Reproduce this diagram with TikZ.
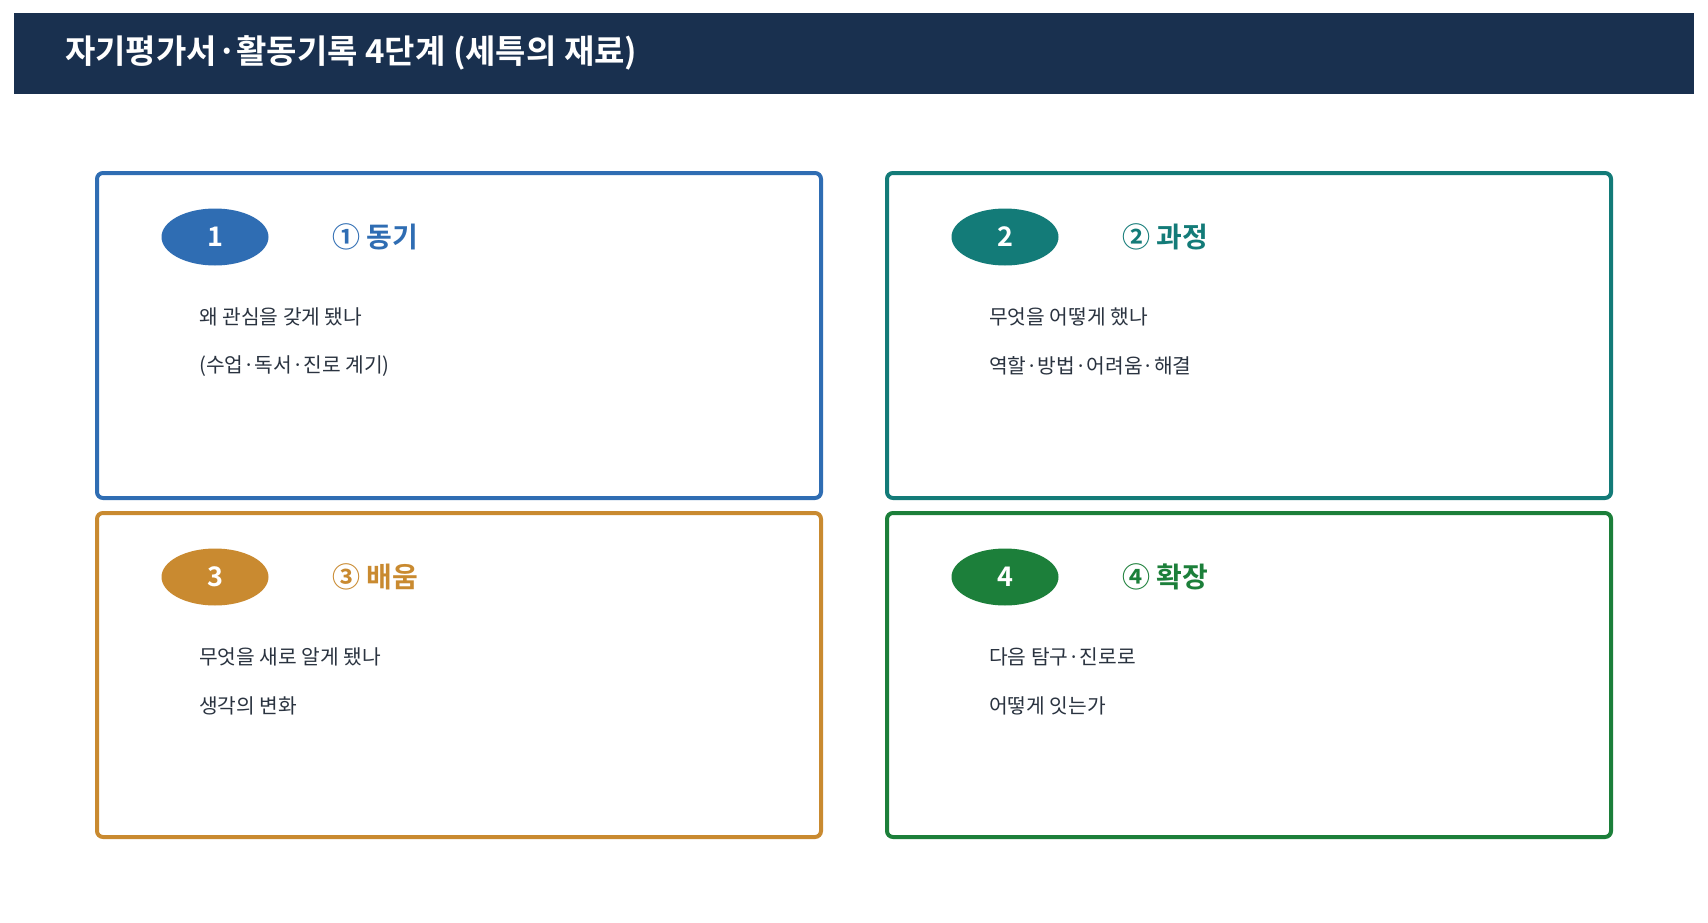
\documentclass[tikz,border=0pt]{standalone}
\usepackage{fontspec}
\setmainfont{Noto Sans CJK KR}[BoldFont={Noto Sans CJK KR Bold}]
\usetikzlibrary{shapes.geometric}
\definecolor{hdr}{HTML}{19304F}
\definecolor{cblue}{HTML}{2F6DB3}
\definecolor{cteal}{HTML}{137B78}
\definecolor{corange}{HTML}{C98A30}
\definecolor{cgreen}{HTML}{1C7F3A}
\definecolor{txt}{HTML}{2A3340}
\tikzset{
  card/.style={draw=#1, line width=4pt, rounded corners=6pt, fill=white},
  badge/.style={ellipse, fill=#1, minimum width=107pt, minimum height=57pt, inner sep=0pt,
    text=white, font=\fontsize{27}{30}\selectfont\bfseries},
  heading/.style={anchor=west, inner sep=0pt, text=#1, font=\fontsize{28}{32}\selectfont\bfseries},
  body/.style={anchor=west, inner sep=0pt, text=txt, font=\fontsize{20.3}{24}\selectfont},
}
\begin{document}
\begin{tikzpicture}[x=1pt,y=-1pt]
\useasboundingbox (0,0) rectangle (1708,923);
\fill[white] (0,0) rectangle (1708,923);
\node[fill=hdr, minimum width=1680pt, minimum height=81pt, inner sep=0pt, anchor=north west] (header) at (14,13) {};
\node[anchor=west, inner sep=0pt, text=white, font=\fontsize{33}{38}\selectfont\bfseries] (title) at (65,53) {자기평가서·활동기록 4단계 (세특의 재료)};
% cards
\draw[card=cblue] (97,173) rectangle (821,498);
\draw[card=cteal] (887,173) rectangle (1611,498);
\draw[card=corange] (97,513) rectangle (821,837);
\draw[card=cgreen] (887,513) rectangle (1611,837);
% card 1
\node[badge=cblue] (b1) at (215,237) {1};
\node[heading=cblue] (h1) at (332,237) {① 동기};
\node[body] (t1a) at (199,317) {왜 관심을 갖게 됐나};
\node[body] (t1b) at (199,366) {(수업·독서·진로 계기)};
% card 2
\node[badge=cteal] (b2) at (1005,237) {2};
\node[heading=cteal] (h2) at (1122,237) {② 과정};
\node[body] (t2a) at (989,317) {무엇을 어떻게 했나};
\node[body] (t2b) at (989,366) {역할·방법·어려움·해결};
% card 3
\node[badge=corange] (b3) at (215,577) {3};
\node[heading=corange] (h3) at (332,577) {③ 배움};
\node[body] (t3a) at (199,657) {무엇을 새로 알게 됐나};
\node[body] (t3b) at (199,706) {생각의 변화};
% card 4
\node[badge=cgreen] (b4) at (1005,577) {4};
\node[heading=cgreen] (h4) at (1122,577) {④ 확장};
\node[body] (t4a) at (989,657) {다음 탐구·진로로};
\node[body] (t4b) at (989,706) {어떻게 잇는가};
\end{tikzpicture}
\end{document}
